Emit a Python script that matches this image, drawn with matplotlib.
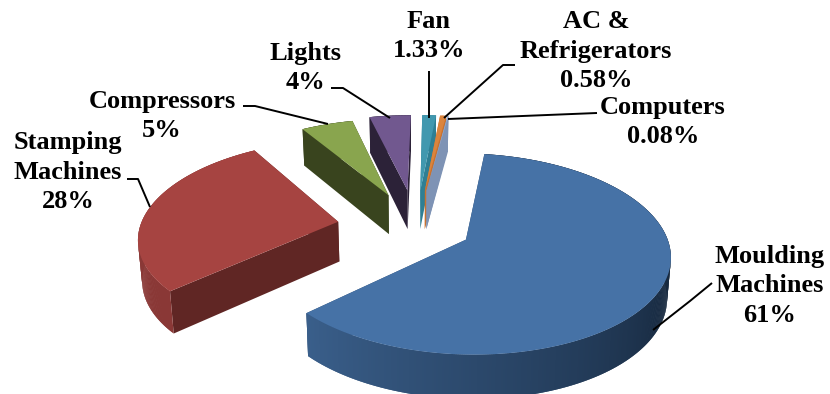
import numpy as np
import matplotlib
matplotlib.use("Agg")
import matplotlib.pyplot as plt
from matplotlib.colors import to_rgb
from matplotlib.patches import Polygon

# Energy share by equipment
categories = ["Moulding\nMachines", "Stamping\nMachines", "Compressors", "Lights",
              "Fan", "AC &\nRefrigerators", "Computers"]
shares = [61, 28, 5, 4, 1.33, 0.58, 0.08]
share_labels = ["61%", "28%", "5%", "4%", "1.33%", "0.58%", "0.08%"]

# Styling for each slice
top_colors = ["#4672A6", "#A64441", "#89A54E", "#71588F", "#4198AF", "#DB843D", "#93A9CF"]
wall_colors = ["#2E4A6E", "#602624", "#39441E", "#2C2238", "#2F7F94", "#C8722F", "#7E93B5"]
rim_near = ["#3A5F8B", "#8A3836", "#39441E", "#2C2238", "#2F7F94", "#C8722F", "#7E93B5"]
rim_far = ["#17293F", "#8A3836", "#39441E", "#2C2238", "#2F7F94", "#C8722F", "#7E93B5"]
explode = [0.28, 0.40, 0.38, 0.41, 0.41, 0.41, 0.41]
first_angle = 8.0

# Pie projection, in pixels
CX, CY, A, B, P = 416.0, 227.0, 198.0, 95.0, 0.14
DEPTH = 40.0


def project(x, y):
    s = 1.0 / (1.0 + P * y)
    return CX + A * x * s, CY - B * y * s, s


def lower(px, py, s):
    return CX + (px - CX) * 0.985, py + DEPTH * s ** 0.6


def quad(ax, xs, ys, color, z):
    ax.add_patch(Polygon(np.column_stack([xs, ys]), closed=True, facecolor=color,
                         edgecolor="none", linewidth=0, zorder=z))


fig = plt.figure(figsize=(8.30, 3.94), dpi=100)
ax = fig.add_axes([0, 0, 1, 1])
ax.set_xlim(0, 830)
ax.set_ylim(394, 0)
ax.axis("off")

total = sum(shares)
angle = first_angle
z = 1
for i, share in enumerate(shares):
    span = share / total * 360.0
    a0, a1 = angle, angle + span
    angle = a1
    mid = np.radians((a0 + a1) / 2)
    ox, oy = explode[i] * np.sin(mid), explode[i] * np.cos(mid)
    th = np.radians(np.linspace(a0, a1, max(int(span * 2), 2) + 1))
    px, py, ps = project(ox + np.sin(th), oy + np.cos(th))
    qx, qy = lower(px, py, ps)
    ax0, ay0, as0 = project(ox, oy)
    bx0, by0 = lower(ax0, ay0, as0)

    # radial walls
    for k in (0, -1):
        quad(ax, [ax0, px[k], qx[k], bx0], [ay0, py[k], qy[k], by0], wall_colors[i], z)
    z += 1
    # outer rim, shaded along the arc; each strip overlaps the next to hide seams
    c_far = np.array(to_rgb(rim_far[i]))
    c_near = np.array(to_rgb(rim_near[i]))
    for k in range(len(th) - 1):
        t = np.clip((np.degrees(th[k]) - 110.0) / (a1 - 110.0), 0, 1) if a1 > 110 else 0
        col = c_far + (c_near - c_far) * t
        e = min(k + 2, len(th) - 1)
        quad(ax, [px[k], px[e], qx[e], qx[k]], [py[k], py[e], qy[e], qy[k]], tuple(col), z)
    z += 1
    quad(ax, np.r_[ax0, px], np.r_[ay0, py], top_colors[i], z)
    z += 1

# Leader lines
leaders = [
    ([653, 690, 712], [330, 301, 283]),
    ([127, 138, 150], [179, 179, 207]),
    ([243, 255, 328], [106, 106, 124]),
    ([331, 343, 390], [88, 88, 118]),
    ([429, 429], [71, 118]),
    ([515, 503, 444], [65, 65, 118]),
    ([597, 448], [113, 119]),
]
for lx, ly in leaders:
    ax.plot(lx, ly, color="black", linewidth=1.4, zorder=50, solid_capstyle="butt")

# Slice labels
label_pos = [(770, 286), (68, 172), (162, 116), (305, 68), (429, 36), (596, 51), (663, 122)]
for name, pct, (tx, ty) in zip(categories, share_labels, label_pos):
    ax.text(tx, ty, f"{name}\n{pct}", ha="center", va="center", family="Liberation Serif",
            fontweight="bold", fontsize=19, linespacing=1.38, color="black", zorder=60)

fig.savefig("out.png", dpi=100, facecolor="white")
